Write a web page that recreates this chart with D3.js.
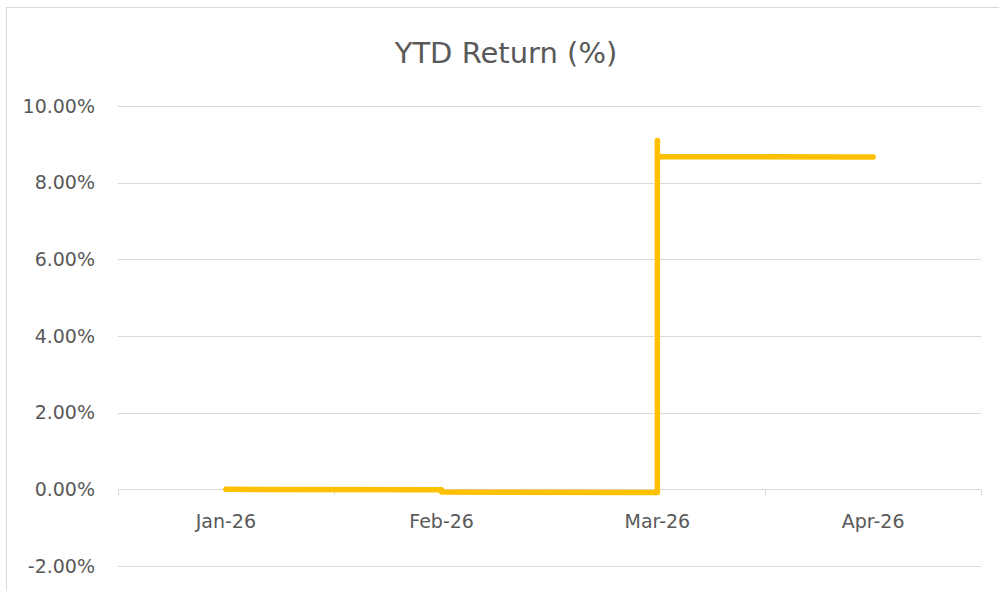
<!DOCTYPE html>
<html lang="en">
<head>
<meta charset="UTF-8">
<title>YTD Return (%)</title>
<script src="https://d3js.org/d3.v7.min.js"></script>
<style>
  body, html { margin: 0; padding: 0; background: #fff; }
  text { font-family: "DejaVu Sans", sans-serif; fill: #595959; }
  .grid line { stroke: #d9d9d9; stroke-width: 1px; }
</style>
</head>
<body>
<script>
// chart data
const months = ["Jan-26", "Feb-26", "Mar-26", "Apr-26"];
// each point sits on a month (date axis with monthly base unit)
const pointMonth = [0, 1, 1, 2, 2, 2, 2, 3];
const pointValue = [0.00, -0.01, -0.07, -0.08, 9.10, 8.25, 8.68, 8.67];
const yTicks = [-2, 0, 2, 4, 6, 8, 10];

const width = 999, height = 591;
const margin = {left: 118, right: 18, top: 106, bottom: 25};

const svg = d3.select("body").append("svg")
    .attr("width", width)
    .attr("height", height);

// chart border (only top and left visible in the crop)
svg.append("rect")
    .attr("x", 6.5).attr("y", 7.5)
    .attr("width", width + 20).attr("height", height + 20)
    .attr("fill", "none")
    .attr("stroke", "#d9d9d9");

const x = d3.scaleBand()
    .domain(months)
    .range([margin.left, width - margin.right]);

const y = d3.scaleLinear()
    .domain([-2, 10])
    .range([566, 106]);

// gridlines
const grid = svg.append("g").attr("class", "grid");
grid.selectAll("line")
    .data(yTicks)
    .enter().append("line")
    .attr("x1", margin.left)
    .attr("x2", width - margin.right)
    .attr("y1", d => Math.round(y(d)) + 0.5)
    .attr("y2", d => Math.round(y(d)) + 0.5);

// y labels (plain hyphen for negatives, like Excel)
svg.append("g")
    .selectAll("text")
    .data(yTicks)
    .enter().append("text")
    .attr("x", 95)
    .attr("y", d => y(d))
    .attr("dy", "0.35em")
    .attr("text-anchor", "end")
    .style("font-size", "19px")
    .text(d => (d < 0 ? "-" : "") + Math.abs(d).toFixed(2) + "%");

// category axis along zero
const y0 = Math.round(y(0)) + 0.5;
const xAxis = svg.append("g");
const bounds = months.map(m => x(m)).concat([x(months[months.length - 1]) + x.bandwidth()]);
xAxis.selectAll("line.tick")
    .data(bounds)
    .enter().append("line")
    .attr("x1", d => Math.round(d) + 0.5)
    .attr("x2", d => Math.round(d) + 0.5)
    .attr("y1", y0)
    .attr("y2", y0 + 6)
    .attr("stroke", "#d9d9d9");

xAxis.selectAll("text")
    .data(months)
    .enter().append("text")
    .attr("x", d => x(d) + x.bandwidth() / 2)
    .attr("y", 521)
    .attr("dy", "0.35em")
    .attr("text-anchor", "middle")
    .style("font-size", "19px")
    .text(d => d);

// line
const pts = pointValue.map((v, i) => ({m: months[pointMonth[i]], v: v}));
const line = d3.line()
    .x(d => x(d.m) + x.bandwidth() / 2)
    .y(d => y(d.v));

svg.append("path")
    .datum(pts)
    .attr("d", line)
    .attr("fill", "none")
    .attr("stroke", "#ffc000")
    .attr("stroke-width", 5.5)
    .attr("stroke-linecap", "round")
    .attr("stroke-linejoin", "round");

// title
svg.append("text")
    .attr("x", 506)
    .attr("y", 53)
    .attr("dy", "0.35em")
    .attr("text-anchor", "middle")
    .style("font-size", "29px")
    .text("YTD Return (%)");
</script>
</body>
</html>
